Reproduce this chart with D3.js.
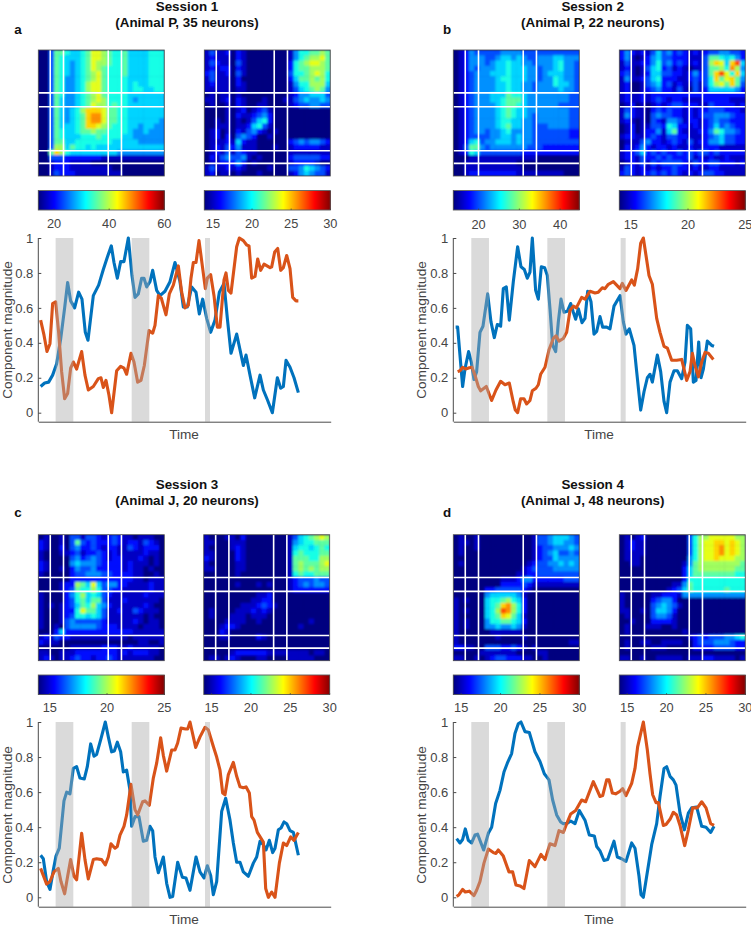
<!DOCTYPE html>
<html><head><meta charset="utf-8">
<script src="https://cdn.jsdelivr.net/npm/d3@7"></script>
<style>html,body{margin:0;padding:0;background:#fff}svg{display:block}text{font-family:"Liberation Sans",Arial,sans-serif}</style>
</head><body><div id="c"></div>
<script>
const titles=["Session 1","Session 2","Session 3","Session 4"];
const subtitles=["(Animal P, 35 neurons)","(Animal P, 22 neurons)","(Animal J, 20 neurons)","(Animal J, 48 neurons)"];
const panelLetters=["a","b","c","d"];
const yTicks=[0,0.2,0.4,0.6,0.8,1];
const cbarDomains=[[[14.3,60],[13.9,30]],[[13.8,44.7],[14,25]],[[14,25],[14,30]],[[14,30],[14,30]]];
const cbarTicks=[[[20,40,60],[15,20,25,30]],[[20,30,40],[15,20,25]],[[15,20,25],[15,20,25,30]],[[15,20,25,30],[15,20,25,30]]];
const eventFractionsX=[0.095,0.2,0.555,0.66];
const eventFractionsY=[0.34,0.45,0.8,0.9];
const bands=[[[167,220],[395,448],[615,630]],[[184,237],[412,465],[632,647]],[[167,220],[395,448],[615,630]],[[184,237],[412,465],[632,647]]];
const timeDomains=[[115,992],[130,1007],[115,992],[130,1007]];

const blueA=[[122,.15],[134,.17],[146,.175],[158,.215],[170,.28],[182,.42],[194,.6],[203,.745],[212,.64],[224,.6],[236,.69],[246,.65],[256,.46],[264,.415],[280,.67],[296,.73],[310,.82],[322,.89],[334,.955],[342,.86],[352,.77],[362,.865],[372,.865],[385,1],[396,.785],[405,.66],[415,.68],[425,.77],[432,.77],[440,.72],[450,.75],[458,.815],[470,.7],[480,.67],[495,.695],[510,.75],[525,.86],[540,.75],[550,.605],[562,.605],[575,.72],[588,.69],[598,.565],[608,.65],[620,.54],[632,.46],[645,.53],[658,.69],[672,.74],[682,.54],[693,.34],[710,.45],[730,.27],[738,.33],[750,.215],[764,.085],[780,.215],[790,.13],[803,.07],[817,0],[832,.2],[842,.14],[850,.15],[858,.3],[870,.26],[882,.2],[895,.115]];
const orangeA=[[122,.53],[132,.445],[141,.35],[150,.395],[158,.625],[167,.635],[176,.46],[185,.235],[194,.08],[203,.11],[212,.255],[220,.29],[230,.25],[245,.35],[255,.215],[265,.13],[280,.15],[295,.195],[303,.2],[310,.145],[318,.185],[327,.1],[335,0],[350,.24],[362,.265],[372,.255],[380,.22],[393,.34],[402,.29],[413,.175],[423,.185],[433,.27],[447,.47],[458,.455],[465,.5],[475,.67],[484,.655],[498,.56],[508,.68],[520,.73],[535,.84],[545,.69],[555,.6],[565,.615],[573,.77],[580,.86],[588,.86],[597,.985],[606,.855],[616,.71],[622,.77],[632,.79],[642,.67],[652,.49],[660,.49],[672,.76],[678,.8],[685,.7],[693,.685],[710,.95],[718,1],[730,.985],[740,.96],[747,.955],[755,.77],[765,.78],[773,.88],[782,.815],[792,.85],[810,.83],[815,.835],[824,.92],[833,.94],[842,.815],[850,.83],[860,.9],[870,.825],[878,.66],[888,.64],[895,.64]];
const blueB=[[137,.49],[143,.49],[150,.33],[158,.15],[165,.25],[176,.35],[184,.29],[192,.19],[200,.235],[210,.46],[219,.495],[233,.68],[243,.52],[253,.43],[262,.505],[272,.495],[280,.71],[289,.72],[298,.53],[310,.75],[323,.95],[333,.835],[343,.82],[352,.77],[360,.805],[367,1],[377,.7],[385,.65],[394,.835],[404,.83],[412,.785],[420,.595],[428,.385],[437,.35],[445,.52],[453,.65],[462,.575],[472,.58],[482,.625],[490,.575],[497,.535],[505,.595],[516,.515],[525,.54],[533,.695],[543,.635],[552,.45],[560,.465],[570,.55],[578,.49],[590,.49],[600,.48],[612,.61],[630,.67],[640,.52],[648,.45],[658,.48],[672,.385],[680,.235],[692,.015],[702,.12],[712,.2],[720,.22],[727,.175],[742,.33],[752,.235],[762,.065],[770,0],[780,.175],[792,.24],[802,.24],[815,.195],[825,.29],[832,.5],[842,.48],[850,.175],[858,.185],[866,.405],[873,.2],[880,.25],[892,.41],[905,.385],[912,.38]];
const orangeB=[[143,.235],[150,.24],[158,.26],[167,.25],[178,.257],[186,.26],[195,.215],[205,.15],[212,.125],[222,.14],[229,.15],[245,.07],[258,.13],[272,.18],[285,.16],[298,.17],[310,.06],[316,.015],[323,0],[332,.08],[342,.08],[350,.05],[360,.07],[367,.125],[378,.14],[385,.16],[392,.22],[405,.26],[417,.36],[430,.425],[438,.44],[447,.41],[460,.425],[470,.46],[480,.585],[490,.61],[499,.6],[515,.66],[525,.65],[540,.695],[555,.685],[565,.69],[577,.715],[585,.71],[595,.735],[610,.75],[620,.73],[630,.71],[637,.74],[648,.7],[665,.76],[673,.73],[683,.825],[692,.97],[700,1],[708,.9],[717,.785],[727,.735],[740,.54],[750,.46],[762,.38],[772,.37],[785,.3],[790,.3],[800,.3],[815,.305],[822,.25],[830,.185],[840,.235],[847,.34],[855,.27],[865,.205],[875,.29],[885,.345],[895,.34],[910,.305]];
const blueC=[[122,.24],[130,.22],[140,.09],[150,.045],[160,.155],[168,.235],[178,.28],[192,.55],[200,.6],[210,.59],[220,.735],[230,.745],[240,.68],[253,.675],[262,.745],[272,.875],[282,.805],[290,.815],[303,.905],[316,1],[325,.915],[335,.83],[343,.835],[352,.885],[362,.83],[370,.715],[380,.725],[390,.61],[395,.405],[405,.46],[417,.46],[430,.32],[440,.325],[450,.405],[458,.38],[465,.23],[475,.14],[490,.23],[500,.08],[510,0],[518,.005],[533,.2],[547,.115],[558,.11],[570,.04],[588,.23],[600,.145],[612,.11],[622,.18],[632,.125],[640,.015],[650,.09],[665,.49],[677,.565],[690,.44],[700,.31],[710,.2],[720,.2],[730,.145],[745,.12],[760,.195],[770,.23],[780,.32],[790,.3],[798,.27],[808,.325],[818,.255],[825,.28],[835,.385],[843,.395],[852,.43],[860,.42],[870,.38],[880,.37],[895,.24]];
const orangeC=[[122,.165],[130,.125],[140,.075],[150,.09],[162,.145],[175,.165],[183,.09],[194,.02],[203,.12],[212,.215],[222,.12],[230,.1],[245,.365],[255,.215],[265,.105],[280,.215],[290,.22],[305,.215],[316,.185],[325,.23],[333,.305],[345,.28],[352,.29],[360,.355],[372,.405],[380,.47],[393,.645],[405,.5],[413,.47],[428,.545],[435,.55],[448,.525],[460,.68],[470,.765],[482,.91],[490,.81],[500,.72],[515,.84],[525,.84],[533,.88],[543,.965],[557,.96],[563,.96],[570,1],[587,.855],[600,.915],[615,.97],[625,.955],[640,.86],[650,.8],[660,.725],[668,.595],[675,.585],[685,.7],[700,.77],[710,.69],[720,.63],[730,.625],[738,.63],[748,.595],[755,.46],[762,.44],[772,.37],[790,.315],[797,.05],[805,0],[815,.03],[825,0],[838,.195],[850,.31],[860,.295],[872,.345],[882,.325],[895,.37]];
const blueD=[[140,.335],[150,.31],[158,.33],[166,.39],[175,.325],[185,.31],[195,.355],[203,.36],[213,.31],[221,.27],[235,.365],[245,.4],[257,.535],[270,.61],[282,.715],[292,.765],[305,.82],[315,.935],[325,.99],[333,1],[345,.945],[358,.94],[375,.83],[390,.775],[403,.705],[417,.67],[428,.555],[440,.47],[452,.43],[460,.42],[470,.42],[482,.435],[495,.42],[508,.495],[525,.44],[538,.355],[553,.35],[560,.29],[570,.265],[582,.21],[593,.215],[612,.32],[622,.23],[635,.22],[648,.205],[665,.31],[675,.28],[687,.12],[693,.015],[700,0],[710,.12],[725,.3],[740,.42],[750,.575],[762,.735],[770,.745],[780,.69],[790,.67],[798,.64],[810,.48],[823,.385],[835,.48],[845,.51],[860,.515],[875,.405],[888,.4],[902,.37],[912,.405]];
const orangeD=[[140,.005],[147,.015],[158,.045],[166,.03],[178,.035],[192,.01],[200,.04],[210,.09],[222,.195],[235,.275],[250,.255],[258,.25],[265,.27],[280,.235],[297,.145],[308,.145],[318,.07],[330,.065],[342,.05],[358,.21],[375,.175],[393,.245],[405,.215],[420,.305],[435,.295],[447,.38],[460,.37],[468,.41],[482,.475],[497,.495],[515,.555],[527,.545],[550,.66],[570,.575],[578,.58],[590,.67],[597,.67],[607,.595],[617,.59],[630,.605],[638,.62],[648,.58],[665,.65],[675,.735],[683,.86],[700,1],[712,.84],[720,.705],[728,.585],[738,.54],[745,.54],[760,.41],[768,.415],[780,.445],[790,.485],[800,.47],[810,.41],[824,.295],[835,.385],[848,.51],[862,.51],[875,.545],[888,.51],[902,.42],[912,.41]];

const heatA1=["003776556799876675555666","003765556799876675555666","003765456798876675555666","003765456798766675555666","003765456789766675555666","003764456789766665555666","003764456899766665655666","003764456899766665665566","003764456789766665555555","003754456789866665455555","003754456798867665555555","003754568aaa977665555555","003754567abb977665555555","003754567abb977665555554","003755567aa9876665545544","003765567787766665445444","003765556667666655444444","003775566666665555544444","003885766565555555555555","007a86555555555444444444","003332222222111111111111","001222111100000000000000","001222111111110000000000","001322211111111100000000"];
const heatA2=["131120210000000014667787","121110210000000014678897","132110310000000026789987","121220210000000026778887","231120310000000036678986","131110200000000025778786","121110210000000014668885","111110110000000013567874","010110100000000012445553","110120210001000113454454","010010210011000012334433","000010120123100000000000","000010211234200000000000","001010101356200000000000","001110112563100000000000","012010213421010000000000","012020343200100000000000","011121521100000023434432","012132411100010012222211","012131321100000011111111","021343341010000023333322","011222420100000012222100","131121210000100033465432","120110100010000012454331"];
const heatB1=["012433333444433333333333","012444334554543344455444","012444345565544344456443","012434445565554434456443","012344455565554434555443","012344445665554434465443","012344445565544344465543","012344445565544344445443","012344455576654444444433","012344455677754444444433","012344445677654444443333","012344445676554444444433","012344445676554344444433","012344445665544344444433","012344445675544333444433","012344344564444333333322","012333344554544333333322","012563445554544333333333","013774344444443332222222","012653333333322222222222","000111111111111100000000","001111111111000000000000","001111111111100000000000","001222222222111111111000"];
const heatB2=["242121353423212123344332","241012453322211137765642","131122463423212138a95ac5","121013562312101137786b84","231012553322124237ac96a5","141123562221123236a79a74","120013452312113136897a73","120012342213103125555542","121121222222222222222222","121121232122111122222111","012010121233222113222212","132110232322121223332221","142110343322121233444322","121010321443122123433222","012011332652212123534322","012012241572111224764432","122112321332211123453322","011134221232131224453322","021242122121121122211111","122352323223232332322222","122132232322231212112111","012131323333213223322212","132121212232212112211111","232122323232121233221111"];
const heatC1=["010010331332123211011100","210010373232223212213210","210020342232122113212220","100011231223212111112110","100000342343212211121010","210000454443222212111010","210010243342222212110100","100000233444332222110010","000000222222222222110111","000012287595344221111211","000012376686332211111211","100002468565321111112111","100002367577311121111110","101012357685421111112100","100012269775311211321110","100012366565311111110100","100013433333211111210110","100103444443222111101110","000252222222222222111111","121322111111111110111111","211100000000000000011001","000000111111222112111110","110011122222222121222110","121011232212232111111100"];
const heatC2=["100011020000000013567898","110001110000000014566777","100001210000000015665676","110000210000000016766677","210000210000000017776688","100000110000000017877789","110000110000000017878788","000000100000000016766777","000000000000000012333433","000000100010100012343443","000000000000000012222222","000000000011200000000000","000000000112200000000000","000000011123210000000000","010000111212100000000000","010001110111000000000000","000011110010000000001000","000122100000000000100000","000210000000000000000000","000110000021000000000000","000000000000000000000000","000000000000000000000000","000001222222111111110110","011012100011000011111000"];
const heatD1=["010010000000000133455543","011010000000000133455443","010010000000000123344454","010000000000000123453343","000000000000000123354444","010000000000001233445454","000000000000012333344444","000000000000112233333333","000000000111244222222333","000000000222232111111111","000000223333321000000000","000000455555410000000000","101000566786520000000000","100000567ab8620000000000","101000568cb8620000000000","100000567a97510000000000","101000466776520000000000","101000445445410000000000","100000011111100000000000","100000001000010000000000","100000000000000000000011","221100333223210100000000","000001111111000011000000","110010123322211001000000"];
const heatD2=["010120000000036889999988","012110000000036899aa9a98","012110000000036899ab9a98","011110000000036899ab9a98","011100000000046899a99988","001100000000147888888887","000000000000257888888877","000000000000257777777766","000000000000266666666666","000000000011476666666666","000000000123576666667666","100000112221444444444444","100000234420000000000000","100000345431000000000000","110010355420000000000000","010000344310000000000000","001000222210000000000000","010001110010000000000000","010000000000100000000000","000000000000012323334456","010011001111002333444322","010000111000002222333322","000000000000000000000000","110010011111011122111101"];

const allBlue=[blueA,blueB,blueC,blueD], allOrange=[orangeA,orangeB,orangeC,orangeD];
const allHeat=[[heatA1,heatA2],[heatB1,heatB2],[heatC1,heatC2],[heatD1,heatD2]];

const W=751,H=930,S=126;
const layout=[
 {hx:[38.3,204.3],hy:50,cy:190.5,tx:187,ty:[11,27],lx:18,ly:34,ax:[38.3,330.7],ay:[412.7,238],ab:421.7,ylx:8,tickY:224,cx:184,tiy:439,lcy:330},
 {hx:[453.3,619.3],hy:50,cy:190.5,tx:592.7,ty:[11,27],lx:447,ly:34,ax:[453.3,745.7],ay:[412.7,238],ab:421.7,ylx:422,tickY:225,cx:599,tiy:439,lcy:330},
 {hx:[38.3,203.7],hy:534.7,cy:675,tx:187,ty:[489,505],lx:18,ly:517,ax:[38.3,330.7],ay:[897.3,722],ab:906.7,ylx:8,tickY:708,cx:184,tiy:924,lcy:815},
 {hx:[453.3,619.3],hy:534.7,cy:675,tx:592.7,ty:[489,505],lx:447,ly:517,ax:[453.3,745.7],ay:[897.3,722],ab:906.7,ylx:422,tickY:708,cx:599,tiy:924,lcy:815}
];

function jet(t){
 const c=v=>Math.max(0,Math.min(1,v));
 const r=c(Math.min(4*t-1.5,-4*t+4.5)),g=c(Math.min(4*t-0.5,-4*t+3.5)),b=c(Math.min(4*t+0.5,-4*t+2.5));
 return d3.rgb(r*255,g*255,b*255).formatHex();
}
const svg=d3.select("#c").append("svg").attr("width",W).attr("height",H);
const defs=svg.append("defs");
defs.append("filter").attr("id","soft").attr("x","-5%").attr("y","-5%").attr("width","110%").attr("height","110%")
 .append("feGaussianBlur").attr("stdDeviation",0.85);
const axisCol="#4a4a4a",textCol="#454545";

panelLetters.forEach((letter,p)=>{
 const L=layout[p], g=svg.append("g");
 g.append("text").attr("x",L.tx).attr("y",L.ty[0]).attr("text-anchor","middle").attr("font-weight","bold").attr("font-size",13.4).attr("fill","#111").text(titles[p]);
 g.append("text").attr("x",L.tx).attr("y",L.ty[1]).attr("text-anchor","middle").attr("font-weight","bold").attr("font-size",13.4).attr("fill","#111").text(subtitles[p]);
 g.append("text").attr("x",L.lx).attr("y",L.ly).attr("text-anchor","middle").attr("font-weight","bold").attr("font-size",13.4).attr("fill","#111").text(letter);

 [0,1].forEach(k=>{
  const x0=L.hx[k], rows=allHeat[p][k], dom=cbarDomains[p][k];
  const color=d3.scaleSequential(jet).domain(dom);
  const lv=d3.scaleLinear().domain([0,15]).range(dom);
  const n=rows.length;
  const bx=d3.scaleBand().domain(d3.range(n)).range([x0,x0+S]);
  const by=d3.scaleBand().domain(d3.range(n)).range([L.hy,L.hy+S]);
  const cid=`clip${p}${k}`;
  defs.append("clipPath").attr("id",cid).append("rect").attr("x",x0).attr("y",L.hy).attr("width",S).attr("height",S);
  const hg=g.append("g").attr("clip-path",`url(#${cid})`);
  hg.append("rect").attr("x",x0).attr("y",L.hy).attr("width",S).attr("height",S).attr("fill",color(dom[0]));
  const cells=rows.flatMap((r,i)=>Array.from(r).map((ch,j)=>({i,j,v:lv(parseInt(ch,16))})));
  hg.append("g").attr("filter","url(#soft)").selectAll("rect").data(cells).join("rect")
    .attr("x",d=>bx(d.j)).attr("y",d=>by(d.i)).attr("width",bx.bandwidth()+.5).attr("height",by.bandwidth()+.5).attr("fill",d=>color(d.v));
  const fx=d3.scaleLinear().domain([0,1]).range([x0,x0+S]), fy=d3.scaleLinear().domain([0,1]).range([L.hy,L.hy+S]);
  hg.selectAll("line.v").data(eventFractionsX).join("line").attr("class","v").attr("x1",d=>fx(d)).attr("x2",d=>fx(d)).attr("y1",L.hy).attr("y2",L.hy+S).attr("stroke","#fff").attr("stroke-width",1.6);
  hg.selectAll("line.h").data(eventFractionsY).join("line").attr("class","h").attr("y1",d=>fy(d)).attr("y2",d=>fy(d)).attr("x1",x0).attr("x2",x0+S).attr("stroke","#fff").attr("stroke-width",1.6);
  g.append("rect").attr("x",x0).attr("y",L.hy).attr("width",S).attr("height",S).attr("fill","none").attr("stroke","#4d4d4d").attr("stroke-width",.8);

  const cx=d3.scaleLinear().domain(dom).range([x0,x0+S]);
  const steps=d3.range(126).map(i=>dom[0]+(dom[1]-dom[0])*i/126);
  const ch=19.5;
  g.append("g").attr("shape-rendering","crispEdges").selectAll("rect").data(steps).join("rect").attr("x",d=>cx(d)).attr("y",L.cy).attr("width",S/126+.6).attr("height",ch).attr("fill",d=>color(d));
  g.append("rect").attr("x",x0).attr("y",L.cy).attr("width",S).attr("height",ch).attr("fill","none").attr("stroke","#5a5a5a").attr("stroke-width",.9);
  cbarTicks[p][k].forEach(t=>{
   g.append("line").attr("x1",cx(t)).attr("x2",cx(t)).attr("y1",L.cy+ch).attr("y2",L.cy+ch-1.5).attr("stroke","#444").attr("stroke-width",.7);
   g.append("text").attr("x",cx(t)).attr("y",L.tickY+4).attr("text-anchor","middle").attr("font-size",12.8).attr("fill",textCol).text(t);
  });
 });

 const x=d3.scaleLinear().domain(timeDomains[p]).range(L.ax);
 const y=d3.scaleLinear().domain([0,1]).range(L.ay);
 const line=d3.line().x(d=>x(d[0])).y(d=>y(d[1]));
 const lg=g.append("g").attr("fill","none").attr("stroke-width",3.1).attr("stroke-linejoin","round").attr("stroke-linecap","butt");
 lg.append("path").datum(allBlue[p]).attr("d",line).attr("stroke","#0072BD");
 lg.append("path").datum(allOrange[p]).attr("d",line).attr("stroke","#D95319");
 g.append("g").selectAll("rect").data(bands[p]).join("rect").attr("x",d=>x(d[0])).attr("width",d=>x(d[1])-x(d[0])).attr("y",L.ay[1]).attr("height",L.ab-L.ay[1]).attr("fill","#aaaaaa").attr("fill-opacity",.44);

 const yAxis=d3.axisLeft(y).tickValues(yTicks).tickSize(-3).tickPadding(5).tickFormat(d=>d3.format("~g")(d));
 const ya=g.append("g").attr("transform",`translate(${L.ax[0]},0)`).call(yAxis);
 ya.select(".domain").attr("d",`M0,${L.ay[1]}V${L.ab}`).attr("stroke",axisCol);
 ya.selectAll(".tick line").attr("stroke",axisCol);
 ya.selectAll("text").attr("font-size",13).attr("fill",textCol).attr("font-family",'"Liberation Sans",Arial,sans-serif');
 const xa=g.append("g").attr("transform",`translate(0,${L.ab})`).call(d3.axisBottom(x).tickValues([]).tickSizeOuter(0));
 xa.select(".domain").attr("stroke",axisCol);
 g.append("text").attr("x",L.cx).attr("y",L.tiy).attr("text-anchor","middle").attr("font-size",13.6).attr("fill",textCol).text("Time");
 g.append("text").attr("transform",`translate(${L.ylx+4},${L.lcy}) rotate(-90)`).attr("text-anchor","middle").attr("font-size",13.6).attr("fill",textCol).text("Component magnitude");
});
</script></body></html>
